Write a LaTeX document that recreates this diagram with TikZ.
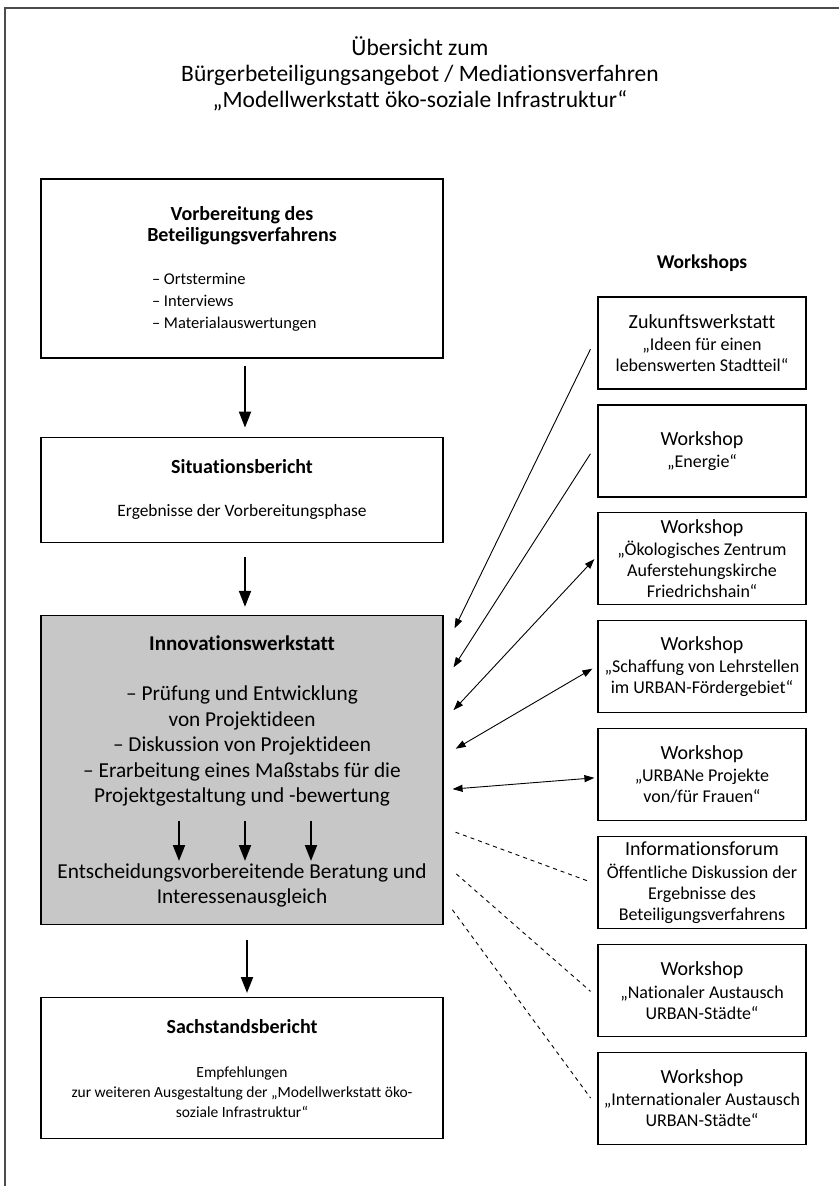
\documentclass[tikz,border=0pt]{standalone}
\usepackage{fontspec}
\setmainfont{Carlito}[Ligatures=NoCommon]
\usetikzlibrary{positioning,arrows.meta}
\tikzset{
	framebox/.style={
		draw=black!70,
		line width=1.5pt
	},
	stage/.style={
		rectangle,
		draw=black,
		line width=1.2pt,
		minimum width=402pt,
		align=center
	},
	greystage/.style={
		stage,
		fill=black!22
	},
	wsbox/.style={
		rectangle,
		draw=black,
		line width=1.2pt,
		minimum width=208pt,
		minimum height=92pt,
		align=center,
		inner sep=2pt,
		font=\fontsize{18}{21}\selectfont
	},
	flow/.style={
		draw=black,
		line width=2pt,
		->,
		>={Triangle[width=12pt,length=16pt]}
	},
	link/.style={
		draw=black,
		line width=0.9pt,
		>={Triangle[width=7pt,length=10pt]}
	},
	dashlink/.style={
		draw=black,
		line width=0.9pt,
		dash pattern=on 4pt off 4pt
	},
}
\newcommand{\stagehead}[1]{{\fontsize{20}{22}\bfseries #1}}
\newcommand{\wshead}[1]{{\fontsize{20}{22}\selectfont #1}\\[1.5pt]}
\newcommand{\listline}[1]{\makebox[180pt][l]{– #1}}

\begin{document}
\begin{tikzpicture}[x=1pt,y=-1pt]
	\useasboundingbox (0,0) rectangle (838,1186);
	\draw[framebox] (5,1190) |- (845,8);

	\node (title) at (420,74) [align=center,font=\fontsize{23.5}{26}\selectfont]
		{Übersicht zum\\Bürgerbeteiligungsangebot / Mediationsverfahren\\„Modellwerkstatt öko-soziale Infrastruktur“};

	% left column
	\node [stage,minimum height=179pt,font=\fontsize{16.5}{21.75}\selectfont] (prep) at (242,268.5)
		{\stagehead{Vorbereitung des}\\\stagehead{Beteiligungsverfahrens}\\[21pt]
		\listline{Ortstermine}\\\listline{Interviews}\\\listline{Materialauswertungen}};
	\node [stage,minimum height=105pt,font=\fontsize{17.4}{20}\selectfont] (sit) [below=78pt of prep]
		{\stagehead{Situationsbericht}\\[23pt]Ergebnisse der Vorbereitungsphase};
	\node [greystage,minimum height=309pt] (inno) [below=72pt of sit] {};
	\node [align=center,font=\fontsize{21.3}{25.5}\selectfont] (innotop) at (242,721)
		{{\fontsize{21}{24}\bfseries Innovationswerkstatt}\\[24.5pt]
		– Prüfung und Entwicklung\\von Projektideen\\– Diskussion von Projektideen\\
		– Erarbeitung eines Maßstabs für die\\Projektgestaltung und -bewertung};
	\node [align=center,font=\fontsize{21.3}{25.5}\selectfont] (innobot) at (242,885.5)
		{Entscheidungsvorbereitende Beratung und\\Interessenausgleich};
	\node [stage,minimum height=141pt,font=\fontsize{15.5}{20}\selectfont] (sach) [below=72pt of inno]
		{\stagehead{Sachstandsbericht}\\[24pt]Empfehlungen\\
		zur weiteren Ausgestaltung der „Modellwerkstatt öko-\\soziale Infrastruktur“};

	\draw[flow,shorten <=7pt,shorten >=9pt] ([xshift=3pt]prep.south) -- ([xshift=3pt]sit.north);
	\draw[flow,shorten <=14pt,shorten >=8pt] ([xshift=3pt]sit.south) -- ([xshift=3pt]inno.north);
	\draw[flow,shorten <=15pt,shorten >=4pt] ([xshift=5pt]inno.south) -- ([xshift=5pt]sach.north);
	\draw[flow,shorten <=11pt,shorten >=-1pt] ([xshift=-63pt]innotop.south) -- ([xshift=-63pt]innobot.north);
	\draw[flow,shorten <=11pt,shorten >=-1pt] ([xshift=3pt]innotop.south) -- ([xshift=3pt]innobot.north);
	\draw[flow,shorten <=11pt,shorten >=-1pt] ([xshift=69pt]innotop.south) -- ([xshift=69pt]innobot.north);

	% workshops
	\node (wslabel) at (702,263) [font=\fontsize{19.5}{22}\bfseries] {Workshops};
	\node [wsbox] (zukunft) at (702,343)
		{\wshead{Zukunftswerkstatt}„Ideen für einen\\lebenswerten Stadtteil“};
	\node [wsbox] (energie) [below=14.7pt of zukunft]
		{\wshead{Workshop}„Energie“};
	\node [wsbox] (oeko) [below=14.7pt of energie]
		{\wshead{Workshop}„Ökologisches Zentrum\\Auferstehungskirche\\Friedrichshain“};
	\node [wsbox] (lehr) [below=14.7pt of oeko]
		{\wshead{Workshop}„Schaffung von Lehrstellen\\im URBAN-Fördergebiet“};
	\node [wsbox] (frauen) [below=14.7pt of lehr]
		{\wshead{Workshop}„URBANe Projekte\\von/für Frauen“};
	\node [wsbox] (forum) [below=14.7pt of frauen]
		{\wshead{Informationsforum}Öffentliche Diskussion der\\Ergebnisse des\\Beteiligungsverfahrens};
	\node [wsbox] (national) [below=14.7pt of forum]
		{\wshead{Workshop}„Nationaler Austausch\\URBAN-Städte“};
	\node [wsbox] (intl) [below=14.7pt of national]
		{\wshead{Workshop}„Internationaler Austausch\\URBAN-Städte“};

	\draw[link,->,shorten <=15.8pt,shorten >=24.9pt] ([yshift=8pt]zukunft.west) -- ([yshift=-36pt]inno.north east);
	\draw[link,->,shorten <=12.9pt,shorten >=18.4pt] ([yshift=8pt]energie.west) -- ([yshift=-68pt]inno.north east);
	\draw[link,<->,shorten <=4.4pt,shorten >=14.6pt] ([yshift=3pt]oeko.west) -- ([yshift=-106pt]inno.north east);
	\draw[link,<->,shorten <=5.8pt,shorten >=14pt] ([yshift=1pt]lehr.west) -- ([yshift=-141pt]inno.north east);
	\draw[link,<->,shorten <=3pt,shorten >=9pt] ([yshift=-3pt]frauen.west) -- ([yshift=-175pt]inno.north east);
	\draw[dashlink,shorten <=12.7pt,shorten >=7.4pt] ([yshift=-213pt]inno.north east) -- ([yshift=-2pt]forum.west);
	\draw[dashlink,shorten <=16.9pt,shorten >=9.1pt] ([yshift=-248pt]inno.north east) -- ([yshift=-7pt]national.west);
	\draw[dashlink,shorten <=14.8pt,shorten >=11.5pt] ([yshift=-283pt]inno.north east) -- ([yshift=-9pt]intl.west);
\end{tikzpicture}
\end{document}
